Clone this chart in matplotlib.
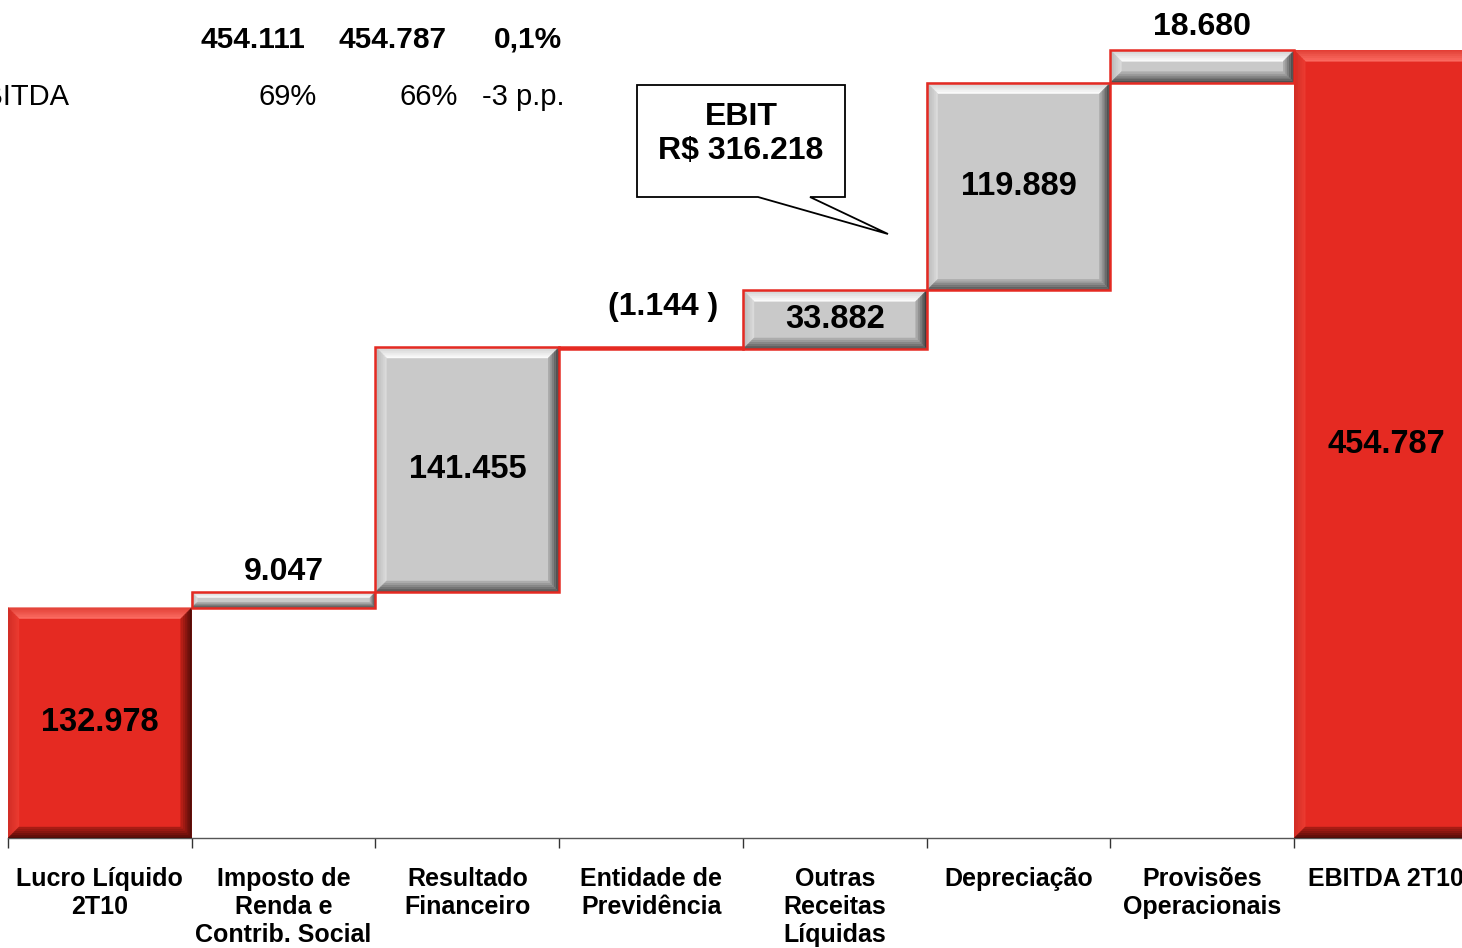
import matplotlib
matplotlib.use("Agg")
import matplotlib.pyplot as plt
from matplotlib.patches import Polygon
from matplotlib.colors import to_rgb
import numpy as np

plt.rcParams['font.family'] = ['Liberation Sans', 'DejaVu Sans']

# dados (R$ mil)
categorias = ["Lucro Líquido\n2T10", "Imposto de\nRenda e\nContrib. Social",
              "Resultado\nFinanceiro", "Entidade de\nPrevidência",
              "Outras\nReceitas\nLíquidas", "Depreciação",
              "Provisões\nOperacionais", "EBITDA 2T10"]
valores = [132978, 9047, 141455, -1144, 33882, 119889, 18680, 454787]
tipos = ['total', 'var', 'var', 'var', 'var', 'var', 'var', 'total']
rotulos = ["132.978", "9.047", "141.455", "(1.144 )", "33.882", "119.889",
           "18.680", "454.787"]
# onde fica o rotulo: dentro ou acima da barra (distancia em px)
pos_rotulo = ['in', 'above', 'in', 'above', 'in', 'in', 'above', 'in']
dist_rotulo = [0, 20, 0, 40, 0, 0, 23, 0]

linha1 = ["454.111", "454.787", "0,1%"]
linha2 = ["69%", "66%", "-3 p.p."]
ebit = "EBIT\nR$ 316.218"

W, H = 1462, 948
fig = plt.figure(figsize=(W / 100, H / 100), dpi=100)
ax = fig.add_axes([8 / W, 110 / H, 8 * 183.75 / W, 838 / H])
ax.set_xlim(-0.5, 7.5)
ax.set_ylim(0, 838 / 0.001732)

# bases da cascata
bases = []
acum = 0
for v, t in zip(valores, tipos):
    if t == 'total':
        bases.append(0)
        acum = v
    else:
        bases.append(min(acum, acum + v))
        acum += v
alturas = [abs(v) for v in valores]
x = np.arange(len(valores))

vermelho = '#E52A22'
cinza = '#C9C9C9'
cores = [vermelho if t == 'total' else cinza for t in tipos]

ax.bar(x, alturas, bottom=bases, width=1.0, color=cores, linewidth=0, zorder=2)

# efeito chanfrado (bevel) desenhado em pixels, com degrade (borda -> interior)
bevel_cinza = {'top': ('#D2D2D2', '#FAFAFA'), 'left': ('#B8B8B8', '#DADADA'),
               'right': ('#3C3C3C', '#A8A8A8'), 'bot': ('#505050', '#ACACAC')}
bevel_verm = {'top': ('#E4443A', '#FA6A60'), 'left': ('#D22E26', '#EA3A30'),
              'right': ('#520C08', '#B41E16'), 'bot': ('#520C08', '#A81C14')}

to_px = ax.transData
to_data = ax.transData.inverted()
n = 6
for i in range(len(valores)):
    (x0, y0) = to_px.transform((x[i] - 0.5, bases[i]))
    (x1, y1) = to_px.transform((x[i] + 0.5, bases[i] + alturas[i]))
    h = y1 - y0
    if h < 6:
        continue
    b = min(11, h * 0.35)
    ext = bevel_verm if tipos[i] == 'total' else bevel_cinza
    for k in range(n):
        a = b * k / n
        c = b * (k + 1) / n
        t = k / (n - 1)
        faces = {
            'top': [(x0 + a, y1 - a), (x1 - a, y1 - a), (x1 - c, y1 - c), (x0 + c, y1 - c)],
            'left': [(x0 + a, y0 + a), (x0 + a, y1 - a), (x0 + c, y1 - c), (x0 + c, y0 + c)],
            'right': [(x1 - a, y0 + a), (x1 - a, y1 - a), (x1 - c, y1 - c), (x1 - c, y0 + c)],
            'bot': [(x0 + a, y0 + a), (x1 - a, y0 + a), (x1 - c, y0 + c), (x0 + c, y0 + c)],
        }
        for nome, pts in faces.items():
            c_out, c_in = ext[nome]
            col = np.array(to_rgb(c_out)) * (1 - t) + np.array(to_rgb(c_in)) * t
            ax.add_patch(Polygon(to_data.transform(pts), closed=True, facecolor=col,
                                 edgecolor=col, linewidth=0.3, zorder=3))

# contorno vermelho das barras de variacao
var_idx = [i for i, t in enumerate(tipos) if t == 'var']
ax.bar(x[var_idx], [alturas[i] for i in var_idx], bottom=[bases[i] for i in var_idx],
       width=1.0, fill=False, edgecolor=vermelho, linewidth=1.8, zorder=4)

# rotulos de valor
for i, r in enumerate(rotulos):
    if pos_rotulo[i] == 'in':
        ax.text(x[i], bases[i] + alturas[i] / 2, r, ha='center', va='center',
                fontsize=23.5, fontweight='bold', zorder=5)
    else:
        dx = 0.065 if valores[i] < 0 else 0
        ax.annotate(r, (x[i] + dx, bases[i] + alturas[i]),
                    xytext=(0, dist_rotulo[i] * 0.72), textcoords='offset points',
                    ha='center', va='center', fontsize=23, fontweight='bold', zorder=5)

# eixo x
for s in ['top', 'right', 'left']:
    ax.spines[s].set_visible(False)
ax.spines['bottom'].set_color('#555555')
ax.spines['bottom'].set_linewidth(1)
ax.set_yticks([])
ax.set_xticks(x)
ax.set_xticklabels(categorias, fontsize=18, fontweight='bold', linespacing=1.2)
ax.tick_params(axis='x', which='major', length=0, pad=21)
ax.set_xticks(np.arange(-0.5, 8, 1), minor=True)
ax.tick_params(axis='x', which='minor', length=7, width=1, color='#333333',
               direction='out')


def fx(px):
    return px / W


def fy(py):
    return 1 - py / H


# tabela no topo (cortada a esquerda)
for txt, xr in zip(linha1, [305, 447, 562]):
    fig.text(fx(xr), fy(40), txt, ha='right', va='center', fontsize=21.5,
             fontweight='bold')
fig.text(fx(70), fy(97), "EBITDA", ha='right', va='center', fontsize=21)
for txt, xr in zip(linha2, [317, 458, 565]):
    fig.text(fx(xr), fy(97), txt, ha='right', va='center', fontsize=21)

# balao do EBIT
balao = [(637, 85), (845, 85), (845, 197), (810, 197), (888, 234), (758, 197),
         (637, 197)]
fig.patches.append(Polygon([(fx(a), fy(b)) for a, b in balao], closed=True,
                           transform=fig.transFigure, facecolor='white',
                           edgecolor='black', linewidth=1.3, zorder=6))
fig.text(fx(741), fy(134), ebit, ha='center', va='center', fontsize=23,
         fontweight='bold', linespacing=1.15, zorder=7)

fig.savefig("out.png", dpi=100)
